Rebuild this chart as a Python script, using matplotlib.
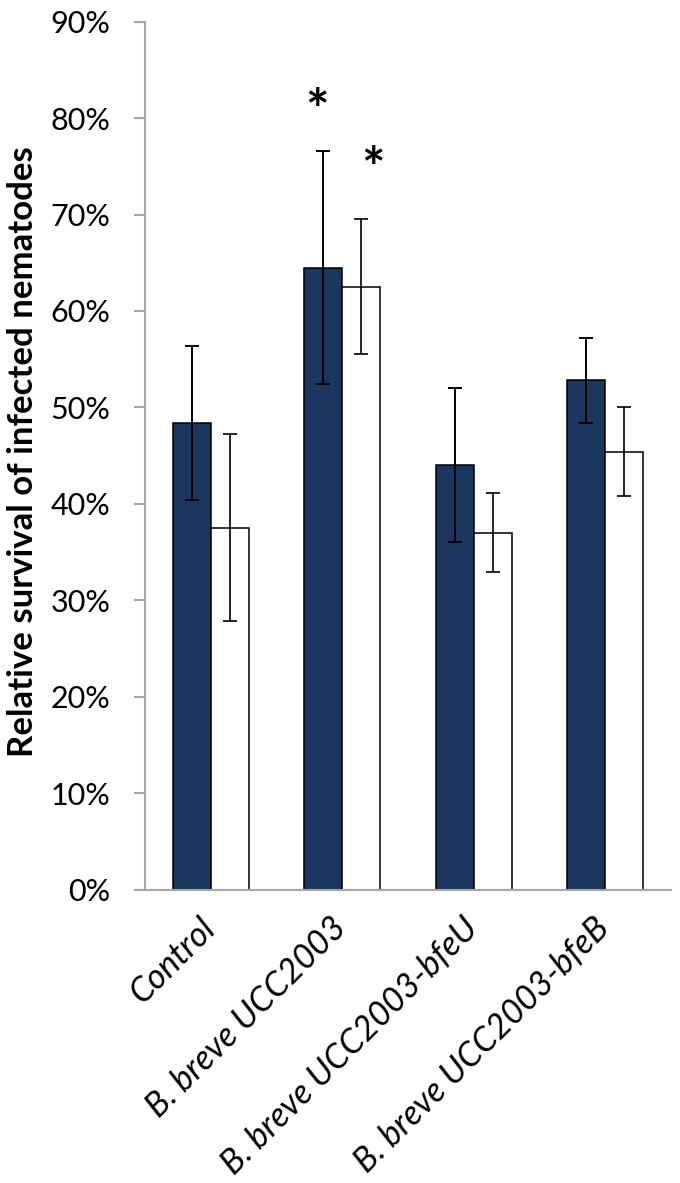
import matplotlib
matplotlib.use("Agg")
import matplotlib.pyplot as plt
import matplotlib.transforms as mtransforms
import numpy as np
from matplotlib.ticker import FuncFormatter

categories = ["Control", "B. breve UCC2003", "B. breve UCC2003-bfeU", "B. breve UCC2003-bfeB"]
dark_vals = [48.4, 64.5, 44.0, 52.8]
dark_err = [8.0, 12.1, 8.0, 4.4]
white_vals = [37.5, 62.5, 37.0, 45.4]
white_err = [9.7, 7.0, 4.1, 4.6]
# significance stars: category index, horizontal offset, y value
star_cat = [1, 1]
star_dx = [-0.19, 0.23]
star_y = [81.0, 75.0]
yticks = list(range(0, 91, 10))

plt.rcParams['font.family'] = ['Lato', 'DejaVu Sans']

fig = plt.figure(figsize=(6.8, 11.83), dpi=100)
ax = fig.add_axes([145/680, 1-889.5/1183, (671-145)/680, (889.5-21.7)/1183])

x = np.arange(len(categories))
w = 0.29
dark_col = '#1a365e'
ax.bar(x - w/2, dark_vals, w, color=dark_col, edgecolor='black', linewidth=1.1, zorder=2)
ax.bar(x + w/2, white_vals, w, color='white', edgecolor='black', linewidth=1.1, zorder=2)
ax.errorbar(x - w/2, dark_vals, yerr=dark_err, fmt='none', ecolor='black',
            elinewidth=1.4, capsize=5, capthick=1.4, zorder=3)
ax.errorbar(x + w/2, white_vals, yerr=white_err, fmt='none', ecolor='black',
            elinewidth=1.2, capsize=5, capthick=1.2, zorder=3)

for c, dx, yv in zip(star_cat, star_dx, star_y):
    ax.text(c + dx, yv, '*', ha='center', va='center_baseline', fontsize=40,
            fontweight='bold', color='black')

ax.set_xlim(-0.5, len(categories) - 0.5)
ax.set_ylim(0, 90)
ax.set_yticks(yticks)
ax.yaxis.set_major_formatter(FuncFormatter(lambda v, p: f"{int(round(v))}%"))

for s in ['top', 'right']:
    ax.spines[s].set_visible(False)
for s in ['left', 'bottom']:
    ax.spines[s].set_color('#a6a6a6')
    ax.spines[s].set_linewidth(1.5)
ax.spines['bottom'].set_zorder(4)

ax.tick_params(axis='y', direction='out', length=8, width=1.5, color='#a6a6a6',
               labelsize=22, pad=17)
ax.tick_params(axis='x', length=0, pad=16)
ax.set_xticks(x)
ax.set_xticklabels(categories, rotation=45, ha='right', va='top',
                   rotation_mode='anchor', fontsize=24.5, fontstyle='italic')
shift = mtransforms.ScaledTranslation(-12/100, 0, fig.dpi_scale_trans)
for lbl in ax.get_xticklabels():
    lbl.set_transform(lbl.get_transform() + shift)

fig.text(23/680, 1-452/1183, 'Relative survival of infected nematodes',
         rotation=90, ha='center', va='center', fontsize=25, fontweight='bold')

fig.savefig('out.png', dpi=100)
